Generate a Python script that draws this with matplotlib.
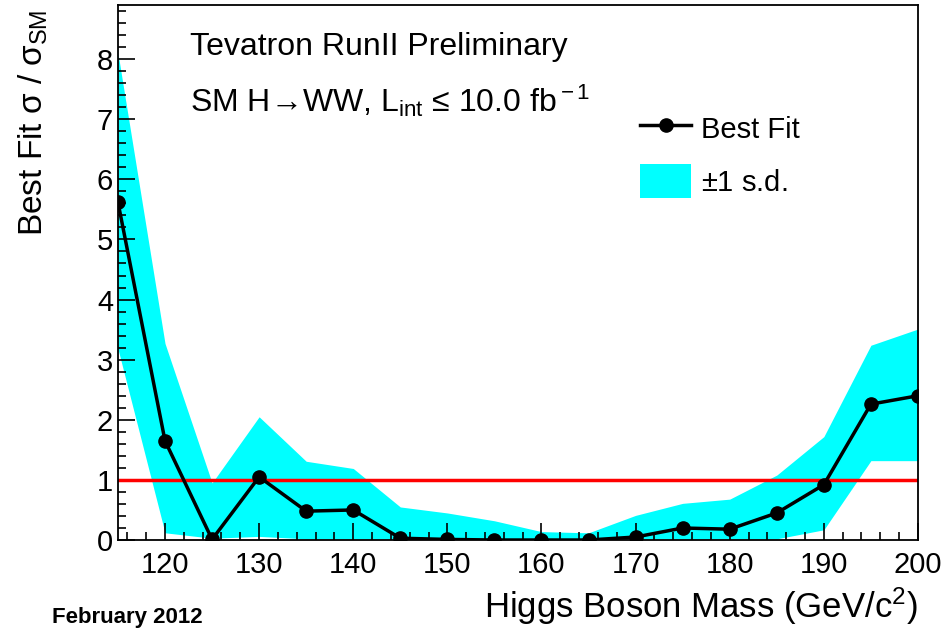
import numpy as np
import matplotlib
matplotlib.use("Agg")
import matplotlib.pyplot as plt
from matplotlib.ticker import MultipleLocator
from matplotlib.patches import Patch
from matplotlib.lines import Line2D

plt.rcParams['font.family'] = ['Liberation Sans', 'DejaVu Sans']
plt.rcParams['mathtext.fontset'] = 'custom'
plt.rcParams['mathtext.rm'] = 'Liberation Sans'
plt.rcParams['mathtext.it'] = 'Liberation Sans'

mass = [115, 120, 125, 130, 135, 140, 145, 150, 155, 160, 165, 170, 175, 180, 185, 190, 195, 200]
best_fit = [5.62, 1.65, 0.01, 1.05, 0.48, 0.50, 0.03, 0.01, 0.0, 0.0, 0.0, 0.05, 0.20, 0.18, 0.45, 0.92, 2.26, 2.40]
band_hi = [8.1, 3.27, 0.95, 2.05, 1.31, 1.19, 0.55, 0.45, 0.32, 0.14, 0.12, 0.41, 0.61, 0.68, 1.08, 1.72, 3.24, 3.51]
band_lo = [3.18, 0.12, 0.03, 0.06, 0.02, 0.02, 0.02, 0.02, 0.02, 0.02, 0.02, 0.02, 0.02, 0.02, 0.02, 0.17, 1.32, 1.32]

fig = plt.figure(figsize=(9.49, 6.39), dpi=100)
ax = fig.add_axes([0.1243, 0.1549, 0.843, 0.8373])

ax.fill_between(mass, band_lo, band_hi, color='#00ffff', lw=0, zorder=1)
ax.axhline(1.0, color='#ff0000', lw=2.5, zorder=2)
ax.plot(mass, best_fit, color='black', lw=2.5, marker='o', ms=9.5, zorder=3)

ax.set_xlim(115, 200)
ax.set_ylim(0, 8.9)
ax.xaxis.set_major_locator(MultipleLocator(10))
ax.xaxis.set_minor_locator(MultipleLocator(2))
ax.yaxis.set_major_locator(MultipleLocator(1))
ax.yaxis.set_minor_locator(MultipleLocator(0.2))
ax.tick_params(which='both', direction='in', labelsize=21, width=1.2)
ax.tick_params(which='major', length=12)
ax.tick_params(which='minor', length=6)
ax.tick_params(axis='x', pad=8)
for s in ax.spines.values():
    s.set_linewidth(1.3)

ax.set_xlabel('Higgs Boson Mass (GeV/c$^{2}$)', fontsize=25, ha='right')
ax.xaxis.set_label_coords(1.0, -0.085)
fig.text(0.018, 0.985, r'Best Fit $\sigma$ / $\sigma_{\rm SM}$', rotation=90,
         ha='left', va='top', fontsize=24)

fig.text(0.2, 0.927, 'Tevatron RunII Preliminary', fontsize=23, va='center', ha='left')
fig.text(0.2, 0.843, 'SM H→WW, L$_{\\rm int}$ ≤ 10.0 fb$^{\\rm -1}$',
         fontsize=23, va='center', ha='left')
fig.text(0.055, 0.034, 'February 2012', fontsize=16, fontweight='bold', va='center', ha='left')

handles = [Line2D([], [], color='black', lw=2.5, marker='o', ms=9.5),
           Patch(facecolor='#00ffff', edgecolor='none')]
ax.legend(handles, ['Best Fit', r'$\pm$1 s.d.'], loc='upper left',
          bbox_to_anchor=(0.62, 0.85), frameon=False, fontsize=21,
          handlelength=1.75, handleheight=1.45, labelspacing=0.6, handletextpad=0.35)

fig.savefig('out.png', dpi=100)
